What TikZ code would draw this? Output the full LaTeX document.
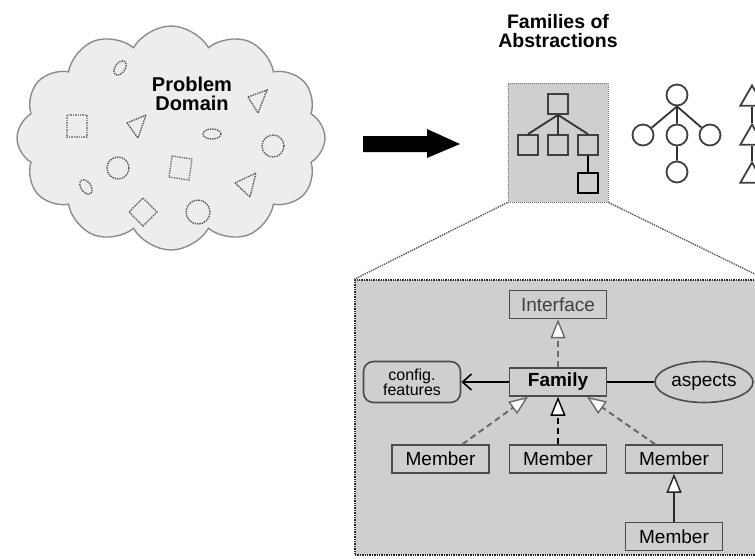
\documentclass[tikz,border=0pt]{standalone}
\usepackage{fontspec}
\setmainfont{Liberation Sans}
\usetikzlibrary{arrows.meta,shapes.geometric,shapes.symbols}
\definecolor{cloudfill}{HTML}{EDEDED}
\definecolor{boxfill}{HTML}{CFCFCF}
\definecolor{edgegray}{HTML}{6A6A6A}

\begin{document}
\begin{tikzpicture}[x=1pt,y=-1pt,
        heading/.style={font=\fontsize{19.5}{19}\selectfont\bfseries, align=center},
        umlbox/.style={draw=black!70, line width=1.6pt, fill=boxfill, minimum width=97pt, minimum height=28pt, inner sep=0pt, font=\fontsize{19}{19}\selectfont},
        thing/.style={densely dotted, line width=1.4pt, black!65},
        icon/.style={draw=black!75, line width=1.8pt, minimum size=20pt, inner sep=0pt},
        realize/.style={-{Triangle[open,fill=white,length=19pt,width=15pt,line width=1.4pt]}, dash pattern=on 6pt off 4pt, edgegray, line width=2pt},
        extend/.style={-{Triangle[open,fill=white,length=19pt,width=15pt,line width=1.4pt]}, black!85, line width=2pt}]
        \useasboundingbox (0,0) rectangle (755,558);
        \clip (0,0) rectangle (755,558);

        % Draw the problem domain cloud
        \node[cloud, cloud puffs=12, cloud puff arc=120, aspect=1.4, draw=black!45, fill=cloudfill, line width=1.4pt, minimum width=308pt, minimum height=224pt] (domain) at (171,138) {};
        \node[heading, font=\fontsize{20}{19}\selectfont\bfseries] (domaintext) at (192,94) {Problem\\Domain};

        % Draw the things in the domain
        \draw[thing] (120,68) ellipse [x radius=5pt, y radius=8pt, rotate=-35];
        \draw[thing] (212,134) ellipse [x radius=9pt, y radius=5pt];
        \draw[thing] (86,187) ellipse [x radius=5pt, y radius=8pt, rotate=35];
        \draw[thing] (273,146) circle [radius=11pt];
        \draw[thing] (118,168) circle [radius=11pt];
        \draw[thing] (198,212) circle [radius=12pt];
        \draw[thing, black!45] (67,115) rectangle (87,137);
        \draw[thing, black!55] (180,168) +(-8,-12) -- +(12,-9) -- +(9,12) -- +(-11,9) -- cycle;
        \draw[thing] (143,212) +(0,-14) -- +(14,0) -- +(0,14) -- +(-14,0) -- cycle;
        \draw[thing] (248,97) -- (267,90) -- (258,113) -- cycle;
        \draw[thing] (127,123) -- (146,115) -- (138,138) -- cycle;
        \draw[thing] (235,183) -- (256,173) -- (250,197) -- cycle;

        % Draw the big arrow
        \fill[black] (363,136) -- (427,136) -- (427,129) -- (460,144) -- (427,158) -- (427,152) -- (363,152) -- cycle;

        % Families of abstractions
        \node[heading] (famtitle) at (558,31) {Families of\\Abstractions};
        \node[draw=black!55, densely dotted, line width=1pt, fill=boxfill, minimum width=100pt, minimum height=119pt, inner sep=0pt] (famicon) at (558,142.5) {};
        \node[icon] (sq0) at (558,104) {};
        \node[icon] (sq1) at (528,145) {};
        \node[icon] (sq2) at (558,145) {};
        \node[icon] (sq3) at (588,145) {};
        \node[icon, draw=black] (sq4) at (588,183) {};
        \draw[black!80, line width=1.8pt] (sq0.south) -- (sq1.north) (sq0.south) -- (sq2.north) (sq0.south) -- (sq3.north);
        \draw[black, line width=1.8pt] (sq3.south) -- (sq4.north);

        \node[icon, circle, minimum size=21pt] (ci0) at (677,95) {};
        \node[icon, circle, minimum size=21pt] (ci1) at (643,135) {};
        \node[icon, circle, minimum size=21pt] (ci2) at (677,135) {};
        \node[icon, circle, minimum size=21pt] (ci3) at (710,135) {};
        \node[icon, circle, minimum size=21pt] (ci4) at (677,172) {};
        \draw[black!80, line width=1.8pt] (ci0.south) -- (ci1) (ci0.south) -- (ci2.north) (ci0.south) -- (ci3) (ci2.south) -- (ci4.north);

        \node[icon, regular polygon, regular polygon sides=3, minimum size=27pt] (tr0) at (752,99) {};
        \node[icon, regular polygon, regular polygon sides=3, minimum size=27pt] (tr1) at (752,138) {};
        \node[icon, regular polygon, regular polygon sides=3, minimum size=27pt] (tr2) at (752,176) {};
        \draw[black!80, line width=1.8pt] (tr0.south) -- (tr1.north) (tr1.south) -- (tr2.north);

        % Zoomed family
        \node[draw=black!85, densely dotted, line width=1.4pt, fill=boxfill, minimum width=410pt, minimum height=275pt, inner sep=0pt] (zoombox) at (560,417.5) {};
        \draw[black!65, densely dotted, line width=1.4pt] (famicon.south west) -- (zoombox.north west);
        \draw[black!65, densely dotted, line width=1.4pt] (famicon.south east) -- (zoombox.north east);

        \node[umlbox, font=\fontsize{19}{19}\selectfont\color{black!75}] (interface) at (558,304.5) {Interface};
        \node[umlbox, font=\fontsize{19}{19}\selectfont\bfseries] (family) at (558,382) {Family};
        \node[umlbox, rounded corners=10pt, minimum height=41pt, align=center, font=\fontsize{16}{15}\selectfont] (config) at (412,382) {config.\\features};
        \node[umlbox, ellipse, minimum width=98pt, minimum height=41pt] (aspects) at (704,382) {aspects};
        \node[umlbox] (member1) at (440.5,459) {Member};
        \node[umlbox] (member2) at (558,459) {Member};
        \node[umlbox] (member3) at (674,459) {Member};
        \node[umlbox] (member4) at (674,536.5) {Member};

        % Draw the relations
        \draw[realize] (family.north) -- (interface.south);
        \draw[-{Straight Barb[length=9pt,width=16pt,line width=1.6pt]}, black, line width=2pt] (family.west) -- (config.east);
        \draw[black, line width=2pt] (family.east) -- (aspects.west);
        \draw[realize] ([xshift=22pt]member1.north) -- ([xshift=-30pt]family.south);
        \draw[realize, black] (member2.north) -- (family.south);
        \draw[realize] ([xshift=-19pt]member3.north) -- ([xshift=29pt]family.south);
        \draw[extend] (member4.north) -- (member3.south);
    \end{tikzpicture}
\end{document}
